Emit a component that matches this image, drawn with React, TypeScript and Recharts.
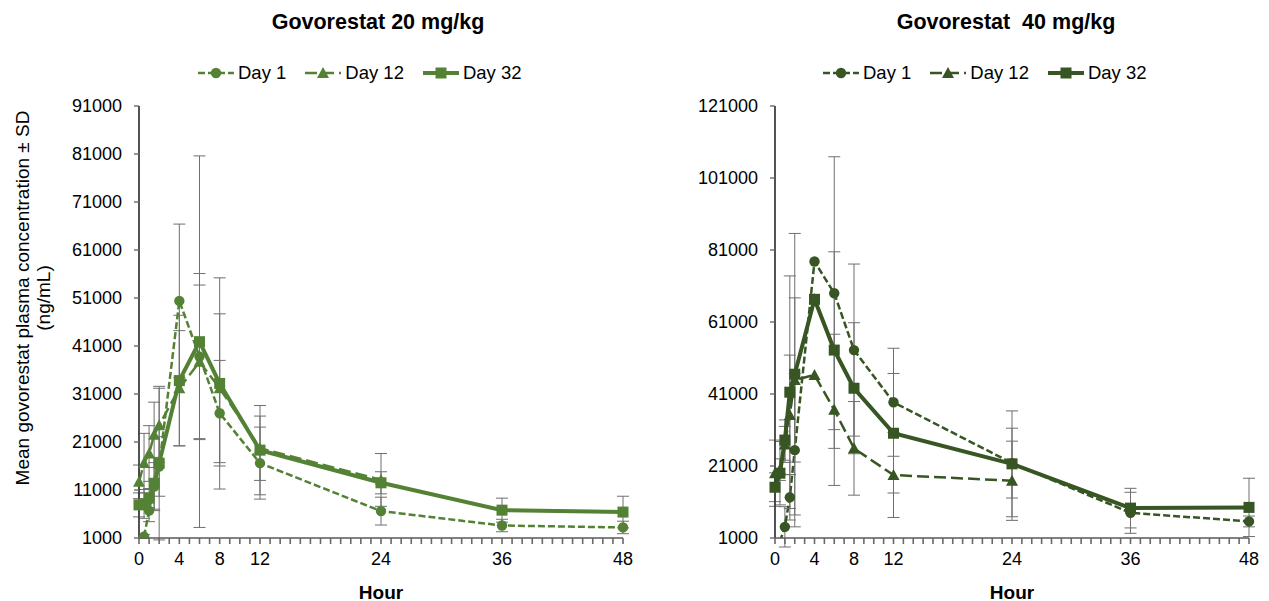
import React from "react";
import { LineChart, Line, XAxis, YAxis, ErrorBar, Legend } from "recharts";

const FONT = "'Liberation Sans', Arial, sans-serif";

const hours = [0, 0.5, 1, 1.5, 2, 4, 6, 8, 12, 24, 36, 48];
const hourLabels = [0, 4, 8, 12, 24, 36, 48];
const hourMinorTicks = Array.from({ length: 49 }, (_, i) => i);
const seriesNames = ["Day 1", "Day 12", "Day 32"];

// 20 mg/kg: mean and SD, ng/mL
const day1Low = [null, 1300, 6700, 11700, 15900, 50400, 38800, 27000, 16600, 6600, 3600, 3200];
const day1LowSd = [null, 400, 2300, 5000, 6200, 16000, 17300, 11000, 7500, 2900, 1300, 1300];
const day12Low = [12700, 16600, 18600, 22500, 24500, 32200, 37700, 32200, 19700, 13100, null, null];
const day12LowSd = [3500, 6200, 5800, 6800, 7700, 12000, 16000, 15500, 6700, 5500, null, null];
const day32Low = [7900, 8100, 9300, 12400, 16600, 33800, 41900, 33200, 19300, 12500, 6800, 6400];
const day32LowSd = [2500, 3000, 2000, 5400, 16000, 13600, 38700, 22000, 9300, 2300, 2500, 3300];
const lowTicks = [1000, 11000, 21000, 31000, 41000, 51000, 61000, 71000, 81000, 91000];

// 40 mg/kg: mean and SD, ng/mL
const day1High = [null, 0, 4100, 12300, 25400, 77800, 69000, 53200, 38700, 21800, 8000, 5600];
const day1HighSd = [null, null, 5600, 6300, 21300, 0, 37900, 23900, 15000, 9700, 5700, 1500];
const day12High = [19000, 20000, 27000, 35200, 44900, 46300, 36600, 25900, 18500, 16900, null, null];
const day12HighSd = [9200, 3000, 5000, 16600, 22800, 0, 21000, 13000, 11800, 11000, null, null];
const day32High = [15100, 19000, 28200, 41500, 46500, 67300, 53200, 42600, 30100, 21600, 9300, 9500];
const day32HighSd = [4000, 8800, 5600, 32300, 39100, 0, 27300, 18200, 16600, 14700, 5500, 8100];
const highTicks = [1000, 21000, 41000, 61000, 81000, 101000, 121000];

type Num = number | null;

const buildRows = (d1: Num[], s1: Num[], d12: Num[], s12: Num[], d32: Num[], s32: Num[]) =>
  hours.map((hour, i) => ({
    hour,
    d1: d1[i],
    d1sd: s1[i],
    d12: d12[i],
    d12sd: s12[i],
    d32: d32[i],
    d32sd: s32[i],
  }));

const lowRows = buildRows(day1Low, day1LowSd, day12Low, day12LowSd, day32Low, day32LowSd);
const highRows = buildRows(day1High, day1HighSd, day12High, day12HighSd, day32High, day32HighSd);

type Shape = "circle" | "triangle" | "square";

const styles: { shape: Shape; width: number; dash?: string }[] = [
  { shape: "circle", width: 2.5, dash: "7 3" },
  { shape: "triangle", width: 2.5, dash: "12 5" },
  { shape: "square", width: 4 },
];

const Marker = ({ shape, x, y, color }: { shape: Shape; x: number; y: number; color: string }) => {
  if (shape === "circle") return <circle cx={x} cy={y} r={5.2} fill={color} />;
  if (shape === "triangle")
    return <path d={`M${x},${y - 6} L${x + 6},${y + 5} L${x - 6},${y + 5} Z`} fill={color} />;
  return <rect x={x - 5.5} y={y - 5.5} width={11} height={11} fill={color} />;
};

const makeDot = (shape: Shape, color: string, min: number) => (props: any) => {
  const { cx, cy, value, index } = props;
  if (cx == null || cy == null || value == null || value < min) return <g key={index} />;
  return (
    <g key={index}>
      <Marker shape={shape} x={cx} y={cy} color={color} />
    </g>
  );
};

// hour axis: a small mark every hour, a number only on the labelled hours
const TICK_SIZE = 5;
const TICK_GAP = 9;
const HourTick = (props: any) => {
  const { x, y, payload } = props;
  const top = y - TICK_SIZE - TICK_GAP;
  const v = payload.value;
  return (
    <g>
      <rect x={x - 0.8} y={top} width={1.6} height={TICK_SIZE + 1} fill="#6a6a6a" />
      {hourLabels.includes(v) && (
        <text x={x} y={y} dy="0.71em" textAnchor="middle" fontFamily={FONT} fontSize={18} fill="#000">
          {v}
        </text>
      )}
    </g>
  );
};

const LegendRow = ({ color }: { color: string }) => (
  <div style={{ display: "flex", alignItems: "center", fontFamily: FONT, fontSize: 18.5, color: "#000" }}>
    {seriesNames.map((name, i) => (
      <div key={name} style={{ display: "flex", alignItems: "center", marginRight: 19 }}>
        <svg width={36} height={14}>
          <line
            x1={0}
            x2={36}
            y1={7}
            y2={7}
            stroke={color}
            strokeWidth={styles[i].width}
            strokeDasharray={styles[i].dash}
          />
          <Marker shape={styles[i].shape} x={18} y={7} color={color} />
        </svg>
        <span style={{ marginLeft: 4, whiteSpace: "nowrap" }}>{name}</span>
      </div>
    ))}
  </div>
);

const YTitle = () => (
  <g fontFamily={FONT} fontSize={19} fill="#000">
    <text transform="translate(22,298) rotate(-90)" textAnchor="middle" dominantBaseline="central">
      Mean govorestat plasma concentration ± SD
    </text>
    <text transform="translate(43,298) rotate(-90)" textAnchor="middle" dominantBaseline="central">
      (ng/mL)
    </text>
  </g>
);

const HourLabel = (props: any) => {
  const vb = props.viewBox || {};
  return (
    <text
      x={vb.x + vb.width / 2}
      y={592}
      textAnchor="middle"
      dominantBaseline="central"
      fontFamily={FONT}
      fontSize={19}
      fontWeight="bold"
      fill="#000"
    >
      Hour
    </text>
  );
};

type PanelProps = {
  title: string;
  titleX: number;
  rows: ReturnType<typeof buildRows>;
  yTicks: number[];
  color: string;
  width: number;
  left: number;
  right: number;
  legendLeft: number;
  yTitle?: boolean;
};

const Panel = ({ title, titleX, rows, yTicks, color, width, left, right, legendLeft, yTitle }: PanelProps) => {
  const keys = ["d1", "d12", "d32"];
  return (
    <div style={{ position: "relative", width, height: 601 }}>
      <div
        style={{
          position: "absolute",
          left: titleX - 200,
          width: 400,
          top: 10,
          textAlign: "center",
          fontFamily: FONT,
          fontSize: 21.5,
          fontWeight: "bold",
          whiteSpace: "pre",
          zIndex: 2,
        }}
      >
        {title}
      </div>
      <LineChart width={width} height={601} data={rows} margin={{ top: 106, right, bottom: 33, left }}>
        <XAxis
          dataKey="hour"
          type="number"
          domain={[0, 48]}
          ticks={hourMinorTicks}
          interval={0}
          tickSize={TICK_SIZE}
          tickMargin={TICK_GAP}
          height={30}
          tick={<HourTick />}
          tickLine={false}
          axisLine={{ stroke: "#595959", strokeWidth: 1.5 }}
          label={<HourLabel />}
        />
        <YAxis
          type="number"
          domain={[yTicks[0], yTicks[yTicks.length - 1]]}
          ticks={yTicks}
          interval={0}
          allowDataOverflow
          width={80}
          tickSize={5}
          tickMargin={12}
          tick={{ fill: "#000", fontSize: 18, fontFamily: FONT }}
          tickLine={{ stroke: "#6a6a6a", strokeWidth: 1.4 }}
          axisLine={{ stroke: "#404040", strokeWidth: 1.8 }}
          label={yTitle ? <YTitle /> : undefined}
        />
        <Legend
          verticalAlign="middle"
          wrapperStyle={{ top: 62, left: legendLeft, width: "auto", height: 22 }}
          content={() => <LegendRow color={color} />}
        />
        {keys.map((k, i) => (
          <Line
            key={k}
            dataKey={k}
            name={seriesNames[i]}
            type="linear"
            stroke={color}
            strokeWidth={styles[i].width}
            strokeDasharray={styles[i].dash}
            dot={makeDot(styles[i].shape, color, yTicks[0])}
            activeDot={false}
            isAnimationActive={false}
          >
            <ErrorBar dataKey={`${k}sd`} direction="y" width={6} stroke="#6f6f6f" strokeWidth={1} />
          </Line>
        ))}
      </LineChart>
    </div>
  );
};

export default function App() {
  return (
    <div style={{ position: "absolute", left: 0, top: 0, width: 1269, height: 601, display: "flex", background: "#fff" }}>
      <Panel
        title="Govorestat 20 mg/kg"
        titleX={378}
        rows={lowRows}
        yTicks={lowTicks}
        color="#548235"
        width={635}
        left={59}
        right={12}
        legendLeft={198}
        yTitle
      />
      <Panel
        title="Govorestat  40 mg/kg"
        titleX={371}
        rows={highRows}
        yTicks={highTicks}
        color="#375623"
        width={634}
        left={60}
        right={20}
        legendLeft={188}
      />
    </div>
  );
}
